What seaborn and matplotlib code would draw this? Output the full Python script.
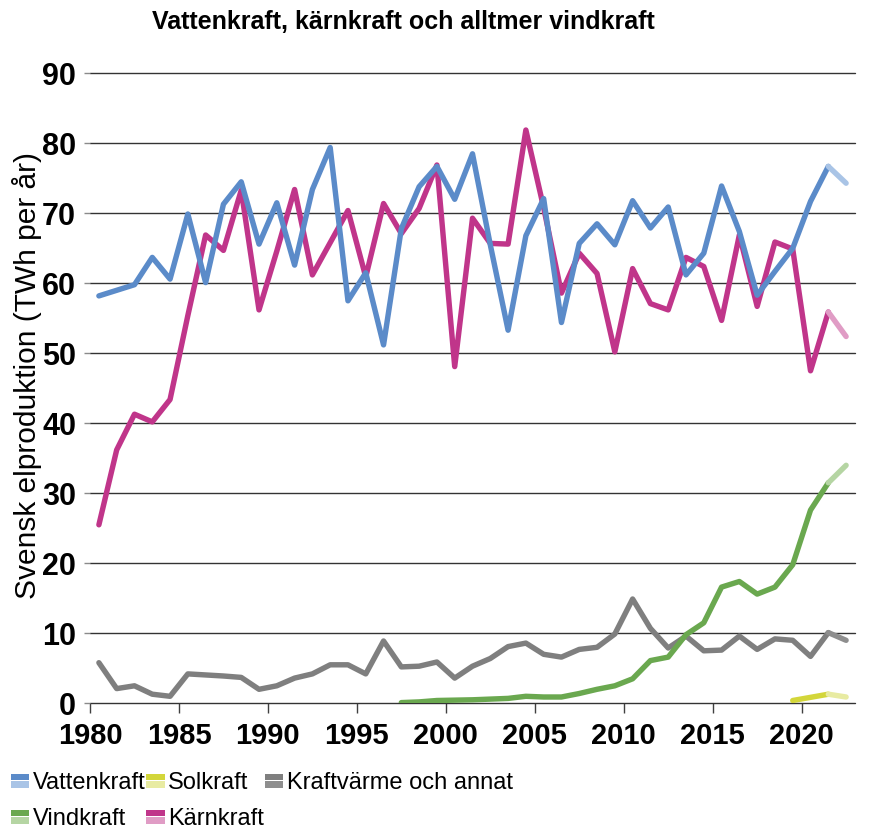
import matplotlib
matplotlib.use('Agg')
import matplotlib.pyplot as plt
import seaborn as sns
import pandas as pd
import numpy as np
from matplotlib.legend_handler import HandlerBase
from matplotlib.patches import Rectangle

# ---------------- data ----------------
years = list(range(1980, 2023))
vattenkraft = [58.2, 59.0, 59.8, 63.7, 60.6, 69.9, 60.1, 71.3, 74.5, 65.6,
               71.5, 62.6, 73.4, 79.4, 57.5, 61.5, 51.2, 67.8, 73.8, 76.7,
               72.0, 78.5, 65.5, 53.3, 66.8, 72.1, 54.4, 65.7, 68.5, 65.5,
               71.8, 67.9, 70.9, 61.2, 64.3, 73.9, 67.4, 58.3, 61.7, 65.0,
               71.7, 76.7, 74.3]
karnkraft = [25.5, 36.2, 41.3, 40.2, 43.4, 55.4, 66.9, 64.7, 73.3, 56.2,
             64.6, 73.4, 61.2, 65.8, 70.4, 60.9, 71.4, 67.1, 70.7, 76.9,
             48.1, 69.3, 65.7, 65.6, 81.9, 70.8, 58.6, 64.3, 61.4, 50.2,
             62.1, 57.1, 56.2, 63.7, 62.4, 54.7, 66.9, 56.7, 65.9, 64.9,
             47.5, 55.9, 52.4]
kraftvarme = [5.8, 2.1, 2.5, 1.3, 1.0, 4.2, 4.05, 3.9, 3.7, 2.0,
              2.5, 3.6, 4.2, 5.5, 5.5, 4.2, 8.9, 5.2, 5.3, 5.9,
              3.6, 5.3, 6.4, 8.1, 8.6, 7.0, 6.6, 7.7, 8.0, 9.9,
              14.9, 10.7, 7.9, 9.6, 7.5, 7.6, 9.6, 7.7, 9.2, 9.0,
              6.7, 10.1, 9.0]
vind_years = list(range(1997, 2023))
vindkraft = [0.1, 0.2, 0.4, 0.45, 0.5, 0.6, 0.7, 1.0, 0.9, 0.9,
             1.4, 2.0, 2.5, 3.5, 6.1, 6.6, 9.8, 11.5, 16.6, 17.4,
             15.6, 16.6, 19.8, 27.6, 31.5, 34.0]
sol_years = list(range(2019, 2023))
solkraft = [0.4, 0.85, 1.3, 0.9]
preliminary_from = 2021  # last segment (2021->2022) drawn in light colour

title = "Vattenkraft, kärnkraft och alltmer vindkraft"
ylabel = "Svensk elproduktion (TWh per år)"
xticks = [1980, 1985, 1990, 1995, 2000, 2005, 2010, 2015, 2020]
yticks = [0, 10, 20, 30, 40, 50, 60, 70, 80, 90]

# ---------------- style ----------------
sns.set_style("white")
plt.rcParams['font.family'] = ['Liberation Sans', 'DejaVu Sans']
plt.rcParams['text.color'] = 'black'
plt.rcParams['axes.labelcolor'] = 'black'
plt.rcParams['xtick.labelcolor'] = 'black'
plt.rcParams['ytick.labelcolor'] = 'black'

fig = plt.figure(figsize=(8.79, 8.32), dpi=100)
W, H = 879, 832
ax = fig.add_axes([90 / W, (H - 703.3) / H, 765 / W, 630 / H])

series = [
    ("Kraftvärme och annat", years, kraftvarme, "#7f7f7f", "#8e8e8e", 2),
    ("Vindkraft", vind_years, vindkraft, "#6aa84f", "#b5d5a3", 3),
    ("Solkraft", sol_years, solkraft, "#d3d63a", "#e8eba2", 3),
    ("Kärnkraft", years, karnkraft, "#c0358a", "#e09cc5", 4),
    ("Vattenkraft", years, vattenkraft, "#5b8bc9", "#a9c4e6", 5),
]

LW = 3.9
for name, yrs, vals, dark, light, z in series:
    df = pd.DataFrame({"year": yrs, "value": vals})
    df["x"] = df["year"] + 0.5  # category centre
    main = df[df["year"] <= preliminary_from]
    prel = df[df["year"] >= preliminary_from]
    sns.lineplot(data=main, x="x", y="value", color=dark, lw=LW, ax=ax,
                 legend=False, zorder=z)
    sns.lineplot(data=prel, x="x", y="value", color=light, lw=LW, ax=ax,
                 legend=False, zorder=z)

ax.set_xlim(1980, 2023)
ax.set_ylim(0, 90)
ax.set_xticks(xticks)
ax.set_yticks(yticks)
ax.set_xlabel("")
ax.set_ylabel(ylabel, fontsize=21.5)
ax.yaxis.set_label_coords(-0.063, 0.52)
for s in ax.spines.values():
    s.set_visible(False)
ax.yaxis.grid(True, color="#333333", lw=1.0)
ax.xaxis.grid(False)
ax.set_axisbelow(True)
for gl in ax.get_ygridlines():
    gl.set_clip_on(False)

ax.tick_params(axis="y", length=4.5, width=1, color="#8a8a8a", pad=5.5,
               labelsize=22, left=True)
ax.tick_params(axis="x", length=7, width=1, color="#404040", pad=6.5,
               labelsize=21, bottom=True)
for lab in ax.get_xticklabels() + ax.get_yticklabels():
    lab.set_fontweight("bold")

fig.text(403 / W, 1 - 22 / H, title, ha="center", va="center",
         fontsize=18, fontweight="bold")


class TwoTone(HandlerBase):
    def __init__(self, dark, light):
        super().__init__()
        self.dark = dark
        self.light = light

    def create_artists(self, legend, orig_handle, xdescent, ydescent,
                       width, height, fontsize, trans):
        c = height / 2 - ydescent
        h = 0.4 * height
        r1 = Rectangle((-xdescent, c + 0.03 * height), width, h,
                       facecolor=self.dark, edgecolor="none", transform=trans)
        r2 = Rectangle((-xdescent, c - 0.03 * height - h), width, h,
                       facecolor=self.light, edgecolor="none", transform=trans)
        return [r1, r2]


info = {s[0]: s for s in series}
order = ["Vattenkraft", "Vindkraft", "Solkraft", "Kärnkraft", "Kraftvärme och annat"]
handles = [Rectangle((0, 0), 1, 1) for _ in order]
hmap = {h: TwoTone(info[n][3], info[n][4]) for h, n in zip(handles, order)}
fig.legend(handles, order, handler_map=hmap, ncol=3, loc="upper left",
           bbox_to_anchor=(11 / W, 1 - 772 / H), frameon=False, fontsize=17,
           handlelength=0.78, handletextpad=0.15, columnspacing=0.03,
           borderpad=0, borderaxespad=0, labelspacing=0.6)

fig.savefig("out.png", dpi=100)
